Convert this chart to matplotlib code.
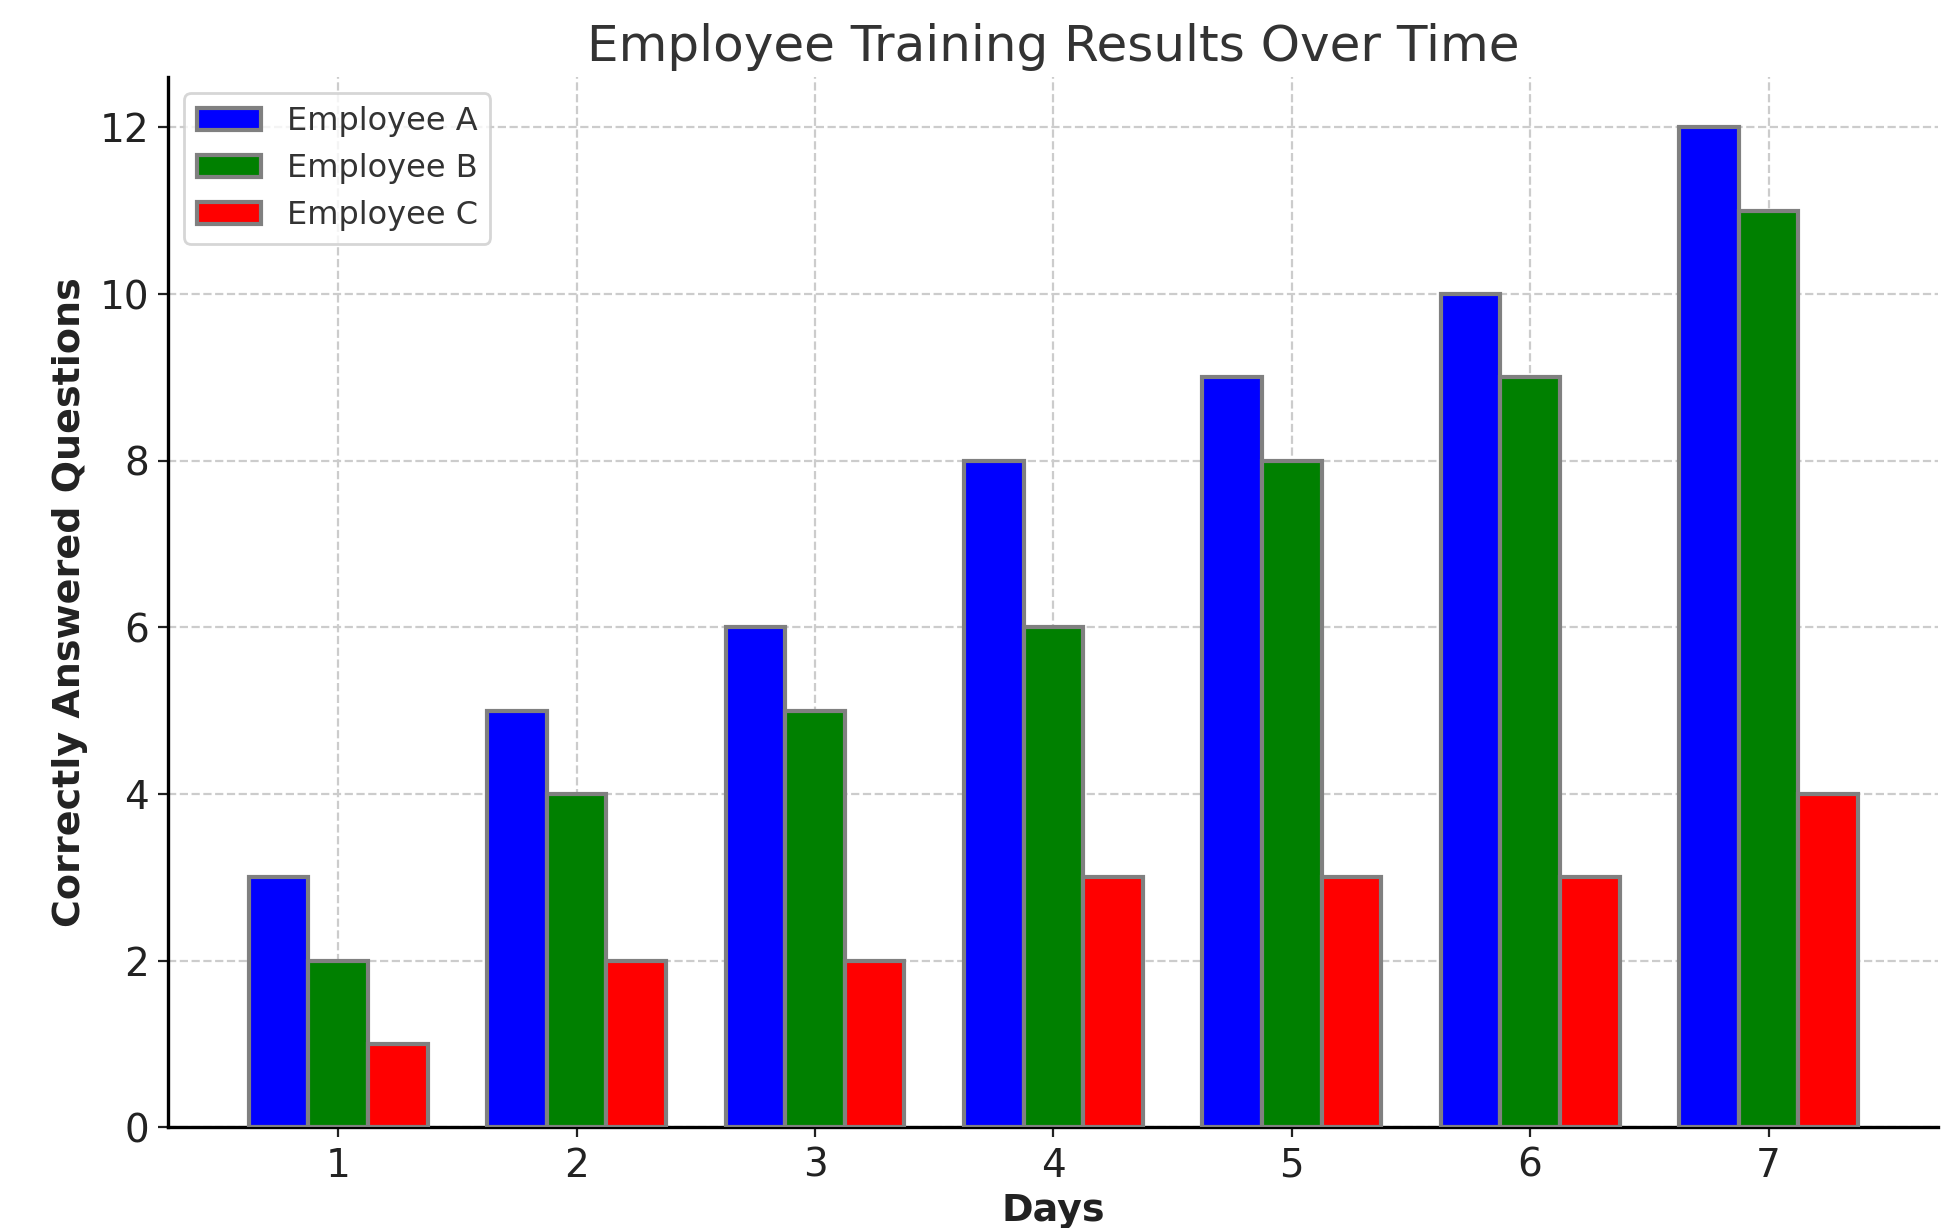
import numpy as np
import matplotlib.pyplot as plt

days = [1, 2, 3, 4, 5, 6, 7]
employee_a = [3, 5, 6, 8, 9, 10, 12]
employee_b = [2, 4, 5, 6, 8, 9, 11]
employee_c = [1, 2, 2, 3, 3, 3, 4]

fig, ax = plt.subplots(figsize=(9.79, 6.14), dpi=200)
fig.subplots_adjust(left=0.086, right=0.99, top=0.937, bottom=0.082)

x = np.array(days)
w = 0.25
ax.bar(x - w, employee_a, width=w, color='blue', edgecolor='grey', linewidth=1.5, label='Employee A', zorder=3)
ax.bar(x, employee_b, width=w, color='green', edgecolor='grey', linewidth=1.5, label='Employee B', zorder=3)
ax.bar(x + w, employee_c, width=w, color='red', edgecolor='grey', linewidth=1.5, label='Employee C', zorder=3)

ax.set_title('Employee Training Results Over Time', fontsize=18, color='#333333')
ax.set_xlabel('Days', fontsize=13.7, fontweight='bold', color='#222222', labelpad=3)
ax.set_ylabel('Correctly Answered Questions', fontsize=13.7, fontweight='bold', color='#222222')
ax.set_xticks(x)
ax.tick_params(axis='both', labelsize=14, colors='#222222')

ax.grid(True, linestyle='--', color='#cccccc', linewidth=0.8, zorder=0)
ax.set_axisbelow(True)
ax.spines['top'].set_visible(False)
ax.spines['right'].set_visible(False)
ax.spines['left'].set_linewidth(1.2)
ax.spines['bottom'].set_linewidth(1.2)

leg = ax.legend(loc='upper left', fontsize=11.5)
for t in leg.get_texts():
    t.set_color('#333333')

plt.savefig('out.png', dpi=200)
